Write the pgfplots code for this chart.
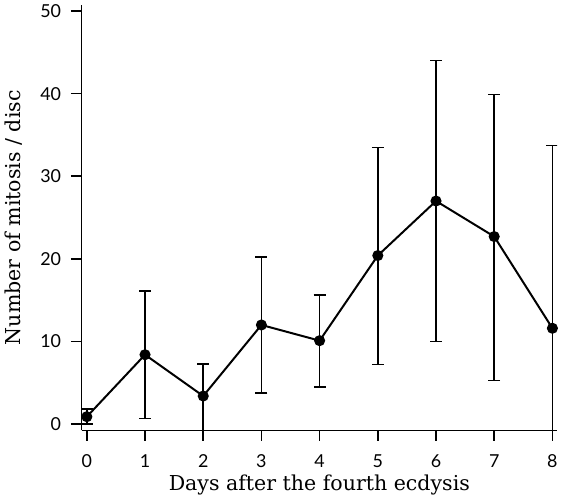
\documentclass[border=0pt]{standalone}
\usepackage{fontspec}
\setmainfont{DejaVu Serif}
\newfontfamily\ticksf{Lato}
\usepackage{pgfplots}
\pgfplotsset{compat=1.18}

\begin{document}
\begin{tikzpicture}
\begin{axis}[
  scale only axis,
  width=359pt, height=321pt,
  xmin=-0.09, xmax=8.08,
  ymin=-0.75, ymax=50.7,
  axis x line*=bottom,
  axis y line*=left,
  axis line style={line width=1.1pt},
  tick align=outside,
  major tick length=8pt,
  tick style={line width=1.1pt, black},
  xtick={0,...,8},
  ytick={0,10,...,50},
  minor tick num=0,
  ticklabel style={font=\ticksf\fontsize{13.5}{14}\selectfont},
  /pgf/number format/assume math mode=true,
  xticklabel style={yshift=-7pt},
  yticklabel style={xshift=-4pt},
  xlabel={Days after the fourth ecdysis},
  ylabel={Number of mitosis / disc},
  label style={font=\fontsize{15.5}{17}\selectfont},
  xlabel style={yshift=2pt},
  ylabel style={yshift=7pt},
]
\addplot[black, line width=1.5pt, mark=*, mark size=3.4pt,
  error bars/.cd, y dir=both, y explicit,
  error bar style={line width=1.2pt},
  error mark options={rotate=90, mark size=4.5pt, line width=1.2pt}]
  coordinates {
  (0,0.9)  += (0,0.9)  -= (0,0.9)
  (1,8.4)  += (0,7.7)  -= (0,7.7)
  (2,3.4)  += (0,3.9)  -= (0,4.4)
  (3,12.0) += (0,8.2)  -= (0,8.2)
  (4,10.1) += (0,5.5)  -= (0,5.6)
  (5,20.4) += (0,13.1) -= (0,13.2)
  (6,27.0) += (0,17.0) -= (0,17.0)
  (7,22.7) += (0,17.2) -= (0,17.4)
  (8,11.6) += (0,22.1) -= (0,22.1)
  };
\end{axis}
\end{tikzpicture}
\end{document}
